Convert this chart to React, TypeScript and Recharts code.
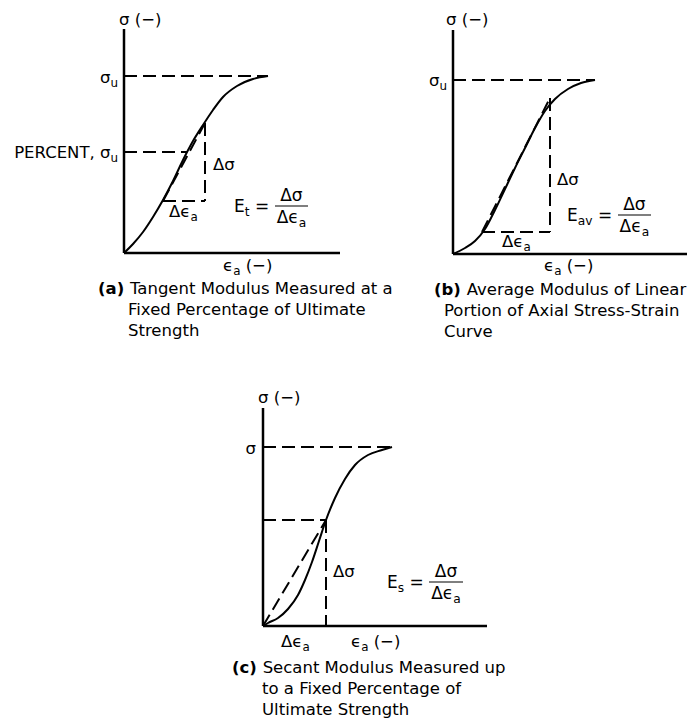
import React from 'react'
import { LineChart, Line, XAxis, YAxis, ReferenceLine } from 'recharts'

// curve points: [strain, stress] in plot units (origin at the axes corner)
const curveA = [[0, 0], [9, 9], [19, 21], [29, 36], [39, 53], [49, 72], [59, 93], [69, 112], [79, 128], [89, 143], [99, 156], [113, 167], [129, 174], [144, 177]]
const curveB = [[0, 0], [12, 6], [22, 13], [32, 25], [42, 44], [52, 65], [62, 86], [72, 106], [82, 126], [92, 143], [102, 155], [115, 165], [128, 171], [142, 174]]
const curveC = [[0, 0], [5, 3], [15, 8], [25, 17], [35, 31], [42, 46], [49, 64], [56, 85], [63, 106], [72, 128], [82, 147], [92, 161], [105, 171], [119, 176], [129, 179]]

// dashed construction lines: [x1, y1, x2, y2]
const dashA = [[0, 177, 144, 177], [0, 101, 63, 101], [39, 52, 81, 130], [81, 130, 81, 52], [39, 52, 81, 52]]
const dashB = [[0, 174, 142, 174], [29, 22, 97, 156], [97, 156, 97, 22], [29, 22, 97, 22]]
const dashC = [[0, 179, 129, 179], [0, 106, 63, 106], [63, 106, 63, 0], [0, 0, 63, 106]]

const FONT = '"DejaVu Sans", Verdana, sans-serif'
const SIZE = 16.5

const toPts = (a: number[][]) => a.map(([x, y]) => ({ x, y }))

const Panel = ({ ox, oy, w, h, curve, dashed }: { ox: number, oy: number, w: number, h: number, curve: number[][], dashed: number[][] }) => {
  const m = { top: 4, right: 4, bottom: 4, left: 4 }
  return (
    <div style={{ position: 'absolute', left: ox - m.left, top: oy - h - m.top }}>
      <LineChart width={w + m.left + m.right} height={h + m.top + m.bottom} margin={m} data={toPts(curve)}>
        <XAxis type="number" dataKey="x" domain={[0, w]} hide />
        <YAxis type="number" domain={[0, h]} hide />
        <ReferenceLine segment={[{ x: 0, y: 0 }, { x: w, y: 0 }]} stroke="#000" strokeWidth={2.5} ifOverflow="visible" />
        <ReferenceLine segment={[{ x: 0, y: 0 }, { x: 0, y: h }]} stroke="#000" strokeWidth={2.5} ifOverflow="visible" />
        {dashed.map((s, i) => (
          <ReferenceLine key={i} segment={[{ x: s[0], y: s[1] }, { x: s[2], y: s[3] }]} stroke="#000" strokeWidth={2} strokeDasharray="13 6" ifOverflow="visible" />
        ))}
        <Line dataKey="y" type="monotone" stroke="#000" strokeWidth={2} dot={false} isAnimationActive={false} />
      </LineChart>
    </div>
  )
}

const Sub = ({ children }: { children: React.ReactNode }) => (
  <span style={{ fontSize: '0.72em', position: 'relative', top: '0.32em' }}>{children}</span>
)

const T = ({ x, y, end, size = SIZE, children }: { x: number, y: number, end?: boolean, size?: number, children: React.ReactNode }) => (
  <div style={{ position: 'absolute', left: x, top: y, transform: `translate(${end ? '-100%' : '0'}, -50%)`, fontSize: size, lineHeight: 1, whiteSpace: 'nowrap' }}>
    {children}
  </div>
)

const Formula = ({ x, y, sub }: { x: number, y: number, sub: string }) => (
  <div style={{ position: 'absolute', left: x, top: y, transform: 'translateY(-50%)', display: 'flex', alignItems: 'center', fontSize: 17, lineHeight: 1, whiteSpace: 'nowrap' }}>
    <span>E<Sub>{sub}</Sub>&nbsp;=&nbsp;</span>
    <span style={{ display: 'inline-flex', flexDirection: 'column', alignItems: 'stretch' }}>
      <span style={{ padding: '0 2px 2px', textAlign: 'center' }}>Δσ</span>
      <span style={{ borderTop: '1.5px solid #000', padding: '2px 2px 0', textAlign: 'center' }}>Δϵ<Sub>a</Sub></span>
    </span>
  </div>
)

const Caption = ({ x, x2, y, tag, lines }: { x: number, x2: number, y: number, tag: string, lines: string[] }) => (
  <>
    {lines.map((l, i) => (
      <T key={i} x={i === 0 ? x : x2} y={y + i * 21}>
        {i === 0 && <b>{tag} </b>}{l}
      </T>
    ))}
  </>
)

export default function App() {
  return (
    <div style={{ position: 'absolute', left: 0, top: 0, width: 697, height: 723, background: '#fff', fontFamily: FONT, color: '#000' }}>
      {/* (a) */}
      <Panel ox={124} oy={253} w={216} h={224} curve={curveA} dashed={dashA} />
      <T x={119} y={20}>σ (−)</T>
      <T x={118} y={78} end>σ<Sub>u</Sub></T>
      <T x={118} y={153} end>PERCENT, σ<Sub>u</Sub></T>
      <T x={213} y={165}>Δσ</T>
      <T x={169} y={212}>Δϵ<Sub>a</Sub></T>
      <Formula x={234} y={206} sub="t" />
      <T x={223} y={266}>ϵ<Sub>a</Sub> (−)</T>
      <Caption x={98} x2={128} y={289} tag="(a)" lines={['Tangent Modulus Measured at a', 'Fixed Percentage of Ultimate', 'Strength']} />

      {/* (b) */}
      <Panel ox={453} oy={254} w={234} h={224} curve={curveB} dashed={dashB} />
      <T x={446} y={20}>σ (−)</T>
      <T x={447} y={81} end>σ<Sub>u</Sub></T>
      <T x={557} y={180}>Δσ</T>
      <T x={502} y={242}>Δϵ<Sub>a</Sub></T>
      <Formula x={567} y={215} sub="av" />
      <T x={544} y={266}>ϵ<Sub>a</Sub> (−)</T>
      <Caption x={434} x2={444} y={290} tag="(b)" lines={['Average Modulus of Linear', 'Portion of Axial Stress-Strain', 'Curve']} />

      {/* (c) */}
      <Panel ox={263} oy={626} w={224} h={218} curve={curveC} dashed={dashC} />
      <T x={258} y={398}>σ (−)</T>
      <T x={256} y={449} end>σ</T>
      <T x={333} y={572}>Δσ</T>
      <T x={281} y={642}>Δϵ<Sub>a</Sub></T>
      <Formula x={387} y={582} sub="s" />
      <T x={351} y={642}>ϵ<Sub>a</Sub> (−)</T>
      <Caption x={232} x2={262} y={668} tag="(c)" lines={['Secant Modulus Measured up', 'to a Fixed Percentage of', 'Ultimate Strength']} />
    </div>
  )
}
